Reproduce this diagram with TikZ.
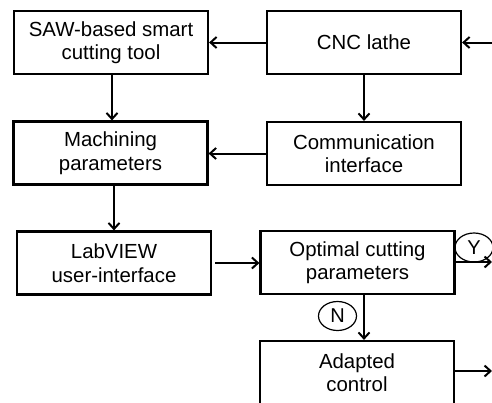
\documentclass[tikz,border=0pt]{standalone}
\usepackage{fontspec}
\setmainfont{Liberation Sans}
\usetikzlibrary{arrows.meta,shapes.geometric,calc}

\tikzset{
  x=1pt, y=-1pt,
  block/.style={draw, line width=2.2pt, minimum width=194pt, minimum height=63pt,
    inner sep=0pt, align=center,
    font=\fontsize{20.4pt}{23.5pt}\selectfont},
  flow/.style={line width=2pt, -{Straight Barb[length=6pt,width=11pt,line width=2pt]}},
  flag/.style={draw, ellipse, line width=1.2pt, minimum width=38pt, minimum height=29pt,
    inner sep=0pt, font=\fontsize{20pt}{22pt}\selectfont},
}

\begin{document}
\begin{tikzpicture}
  \useasboundingbox (0,0) rectangle (492,402);
  \clip (0,0) rectangle (492,402);

  % process blocks
  \node[block] (saw)  at (111,42.5)   {SAW-based smart\\cutting tool};
  \node[block] (cnc)  at (364,42.5)   {CNC lathe};
  \node[block] (mach) at (110.5,153)  {Machining\\parameters};
  \node[block] (comm) at (364,153.5)  {Communication\\interface};
  \node[block] (lab)  at (114,263)    {LabVIEW\\user-interface};
  \node[block] (opt)  at (357.5,262.5){Optimal cutting\\parameters};
  \node[block] (ada)  at (357,372.5)  {Adapted\\control};

  % decision flags
  \node[flag] (yes) at (474,247.5) {Y};
  \node[flag] (no)  at (337.5,316) {N};

  % open ends at the right margin
  \coordinate (cncin) at (494,42.5);
  \coordinate (yout)  at (492,262);
  \coordinate (aout)  at (492,371);

  % connectors
  \draw[flow] (cncin) -- (cnc.east);
  \draw[flow] (cnc.west) -- (saw.east |- cnc.west);
  \draw[flow] (cnc.south) -- (comm.north);
  \draw[flow] ([xshift=1pt]saw.south) -- ([xshift=1.5pt]mach.north);
  \draw[flow] (comm.west) -- (mach.east |- comm.west);
  \draw[flow] ([xshift=3.5pt]mach.south) -- ([xshift=0pt]lab.north);
  \draw[flow] ([xshift=3pt]lab.east) -- (opt.west |- lab.east);
  \draw[flow] (opt.south -| comm.south) -- (ada.north -| comm.south);
  \draw[flow] (opt.east |- yout) -- (yout);
  \draw[flow] (ada.east |- aout) -- (aout);
\end{tikzpicture}
\end{document}
